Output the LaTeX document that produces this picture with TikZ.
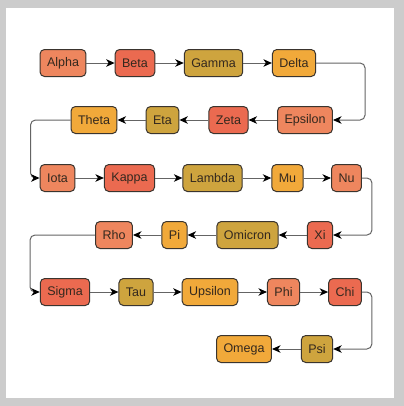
\documentclass[tikz,border=0pt]{standalone}
\usepackage{fontspec}
\setmainfont{Liberation Sans}
\usetikzlibrary{arrows.meta}

\definecolor{chainFrame}{RGB}{204,204,204}
\definecolor{chainBorder}{RGB}{58,52,46}
\definecolor{chainText}{RGB}{51,40,30}
\definecolor{chainLine}{RGB}{100,100,100}
\definecolor{chainSalmon}{RGB}{238,134,94}
\definecolor{chainRed}{RGB}{235,106,80}
\definecolor{chainGold}{RGB}{206,164,62}
\definecolor{chainOrange}{RGB}{241,169,58}

\begin{document}
\begin{tikzpicture}[x=1bp,y=-1bp,
      box/.style={draw=chainBorder, rounded corners=4.5bp, line width=1bp,
        font=\fontsize{12.5bp}{14bp}\selectfont, text=chainText,
        inner xsep=7bp, inner ysep=0pt, minimum height=27bp},
      salmon/.style={box, fill=chainSalmon},
      red/.style={box, fill=chainRed},
      gold/.style={box, fill=chainGold},
      orange/.style={box, fill=chainOrange},
      link/.style={draw=chainLine, line width=1bp, rounded corners=5bp,
        -{Stealth[length=8.5bp,width=7.5bp,inset=2.5bp,color=black]}}]
      \useasboundingbox (0,0) rectangle (404,406);
      \fill[chainFrame] (0,0) rectangle (404,406);
      \fill[white] (6,8) rectangle (394,398);

      % first row, left to right
      \node[salmon] (alpha) at (63,63) {Alpha};
      \node[red] (beta) at (135,63) {Beta};
      \node[gold] (gamma) at (213.5,63) {Gamma};
      \node[orange] (delta) at (294,63) {Delta};
      % second row, right to left
      \node[salmon] (epsilon) at (305,120) {Epsilon};
      \node[red] (zeta) at (228.5,120) {Zeta};
      \node[gold] (eta) at (162.5,120) {Eta};
      \node[orange] (theta) at (94,120) {Theta};
      % third row
      \node[salmon] (iota) at (57.5,178) {Iota};
      \node[red] (kappa) at (129.5,178) {Kappa};
      \node[gold] (lambda) at (212.5,178) {Lambda};
      \node[orange] (mu) at (287.5,178) {Mu};
      \node[salmon] (nu) at (346.5,178) {Nu};
      % fourth row
      \node[red] (xi) at (320,235) {Xi};
      \node[gold] (omicron) at (247.5,235) {Omicron};
      \node[orange] (pi) at (174.5,235) {Pi};
      \node[salmon] (rho) at (114,235) {Rho};
      % fifth row
      \node[red] (sigma) at (65,292) {Sigma};
      \node[gold] (tau) at (136,292) {Tau};
      \node[orange] (upsilon) at (210,292) {Upsilon};
      \node[salmon] (phi) at (283.5,292) {Phi};
      \node[red] (chi) at (345,292) {Chi};
      % last row
      \node[gold] (psi) at (317,349) {Psi};
      \node[orange] (omega) at (244,349) {Omega};

      \draw[link] (alpha) -- (beta);
      \draw[link] (beta) -- (gamma);
      \draw[link] (gamma) -- (delta);
      \draw[link] (delta.east) -- ++(49,0) |- (epsilon.east);
      \draw[link] (epsilon) -- (zeta);
      \draw[link] (zeta) -- (eta);
      \draw[link] (eta) -- (theta);
      \draw[link] (theta.west) -- ++(-40,0) |- (iota.west);
      \draw[link] (iota) -- (kappa);
      \draw[link] (kappa) -- (lambda);
      \draw[link] (lambda) -- (mu);
      \draw[link] (mu) -- (nu);
      \draw[link] (nu.east) -- ++(10,0) |- (xi.east);
      \draw[link] (xi) -- (omicron);
      \draw[link] (omicron) -- (pi);
      \draw[link] (pi) -- (rho);
      \draw[link] (rho.west) -- ++(-65,0) |- (sigma.west);
      \draw[link] (sigma) -- (tau);
      \draw[link] (tau) -- (upsilon);
      \draw[link] (upsilon) -- (phi);
      \draw[link] (phi) -- (chi);
      \draw[link] (chi.east) -- ++(10,0) |- (psi.east);
      \draw[link] (psi) -- (omega);
    \end{tikzpicture}
\end{document}
